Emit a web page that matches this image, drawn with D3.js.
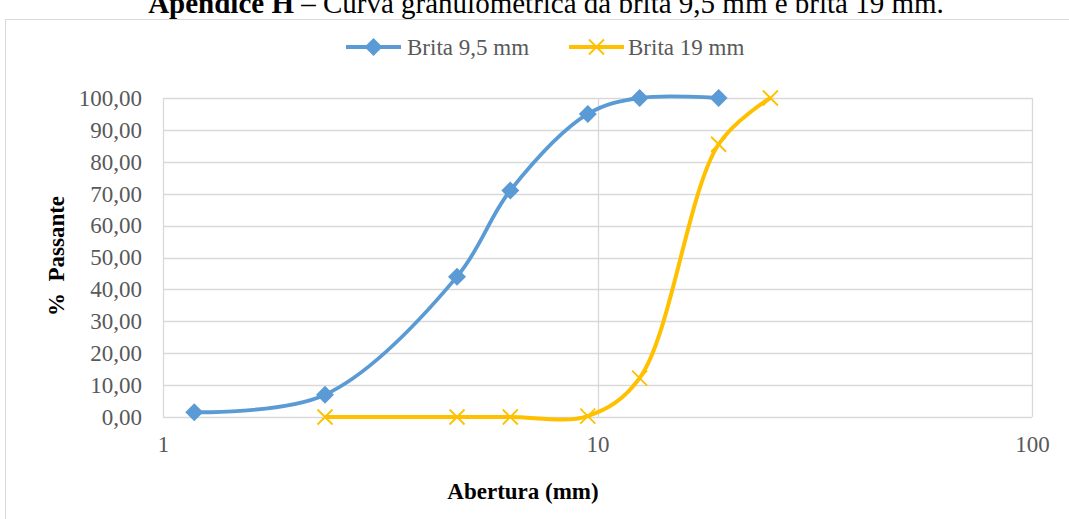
<!DOCTYPE html>
<html>
<head>
<meta charset="utf-8">
<script src="https://cdn.jsdelivr.net/npm/d3@7"></script>
<style>
  body { margin: 0; background: #fff; }
  text { font-family: "Liberation Serif", "Times New Roman", serif; }
</style>
</head>
<body>
<div id="chart"></div>
<script>
// peneiras (mm) e % passante
var sieves95 = [1.18, 2.36, 4.75, 6.3, 9.5, 12.5, 19];
var brita95 = [1.5, 7, 44, 71, 95, 100, 100];
var sieves19 = [2.36, 4.75, 6.3, 9.5, 12.5, 19, 25];
var brita19 = [0, 0, 0, 0.3, 12.2, 85.5, 100];
var yTicks = [0, 10, 20, 30, 40, 50, 60, 70, 80, 90, 100];
var xTicks = [1, 10, 100];
var seriesNames = ["Brita 9,5 mm", "Brita 19 mm"];

var width = 1069, height = 519;
var margin = {top: 98, right: 37, bottom: 102, left: 163};

var svg = d3.select('#chart').append('svg')
	.attr('width', width)
	.attr('height', height);

// moldura
svg.append('rect')
	.attr('x', 5.5).attr('y', 19.5)
	.attr('width', width).attr('height', height)
	.attr('fill', 'none')
	.attr('stroke', '#d9d9d9');

// titulo (cortado no topo)
var title = svg.append('text')
	.attr('x', 546).attr('y', 13)
	.attr('text-anchor', 'middle')
	.style('font-size', '29px');
title.append('tspan').style('font-weight', 'bold').text('Apêndice H');
title.append('tspan').text(' – Curva granulométrica da brita 9,5 mm e brita 19 mm.');

var x = d3.scaleLog().domain([1, 100]).range([margin.left, width - margin.right]);
var y = d3.scaleLinear().domain([0, 100]).range([height - margin.bottom, margin.top]);

var locale = d3.formatLocale({decimal: ",", thousands: ".", grouping: [3], currency: ["R$", ""]});
var fmt = locale.format(".2f");

// grade
svg.append('g').selectAll('line')
	.data(yTicks).enter().append('line')
	.attr('x1', x(1)).attr('x2', x(100))
	.attr('y1', function(d) { return Math.round(y(d)) + 0.5; })
	.attr('y2', function(d) { return Math.round(y(d)) + 0.5; })
	.attr('stroke', '#d9d9d9').attr('stroke-width', 1.3);

svg.append('g').selectAll('line')
	.data(xTicks).enter().append('line')
	.attr('x1', function(d) { return Math.round(x(d)) + 0.5; })
	.attr('x2', function(d) { return Math.round(x(d)) + 0.5; })
	.attr('y1', y(0)).attr('y2', y(100))
	.attr('stroke', '#d9d9d9').attr('stroke-width', 1.3);

// eixos
var yAxis = svg.append('g')
	.attr('transform', 'translate(' + (margin.left - 21) + ',0)')
	.call(d3.axisLeft(y).tickValues(yTicks).tickFormat(fmt).tickSize(0).tickPadding(0));
var xAxis = svg.append('g')
	.attr('transform', 'translate(0,' + (height - margin.bottom + 19) + ')')
	.call(d3.axisBottom(x).tickValues(xTicks).tickFormat(d3.format('d')).tickSize(0).tickPadding(0));
[yAxis, xAxis].forEach(function(a) {
	a.select('.domain').remove();
	a.selectAll('text')
		.style('font-family', '"Liberation Serif", serif')
		.style('font-size', '23px')
		.attr('fill', '#595959');
});
xAxis.selectAll('text').attr('dy', '0.71em');

// titulos dos eixos
svg.append('text')
	.attr('x', 523).attr('y', 499)
	.attr('text-anchor', 'middle')
	.style('font-size', '23px').style('font-weight', 'bold')
	.text('Abertura (mm)');

svg.append('text')
	.attr('transform', 'translate(64,256) rotate(-90)')
	.attr('text-anchor', 'middle')
	.style('font-size', '23px').style('font-weight', 'bold')
	.attr('xml:space', 'preserve')
	.text('%  Passante');

// curvas
var line = d3.line()
	.x(function(d) { return x(d[0]); })
	.y(function(d) { return y(d[1]); })
	.curve(d3.curveCatmullRom.alpha(0.5));

var data95 = d3.zip(sieves95, brita95);
var data19 = d3.zip(sieves19, brita19);

svg.append('path').datum(data95)
	.attr('d', line)
	.attr('fill', 'none')
	.attr('stroke', '#5b9bd5')
	.attr('stroke-width', 3.8);

svg.append('path').datum(data19)
	.attr('d', line)
	.attr('fill', 'none')
	.attr('stroke', '#ffc000')
	.attr('stroke-width', 4);

function diamond(g, cx, cy) {
	g.append('path')
		.attr('d', 'M' + cx + ',' + (cy - 9) + 'L' + (cx + 9) + ',' + cy + 'L' + cx + ',' + (cy + 9) + 'L' + (cx - 9) + ',' + cy + 'Z')
		.attr('fill', '#5b9bd5');
}
function cross(g, cx, cy) {
	g.append('path')
		.attr('d', 'M' + (cx - 7.5) + ',' + (cy - 7.5) + 'L' + (cx + 7.5) + ',' + (cy + 7.5) + 'M' + (cx + 7.5) + ',' + (cy - 7.5) + 'L' + (cx - 7.5) + ',' + (cy + 7.5))
		.attr('stroke', '#ffc000').attr('stroke-width', 1.8).attr('fill', 'none');
}

var marks = svg.append('g');
data95.forEach(function(d) { diamond(marks, x(d[0]), y(d[1])); });
data19.forEach(function(d) { cross(marks, x(d[0]), y(d[1])); });

// legenda
var legend = svg.append('g');
legend.append('line').attr('x1', 346).attr('x2', 401).attr('y1', 47).attr('y2', 47)
	.attr('stroke', '#5b9bd5').attr('stroke-width', 3.8);
diamond(legend, 373.5, 47);
legend.append('text').attr('x', 407).attr('y', 47).attr('dy', '0.35em')
	.style('font-size', '23px').attr('fill', '#595959').text(seriesNames[0]);
legend.append('line').attr('x1', 569).attr('x2', 624).attr('y1', 47).attr('y2', 47)
	.attr('stroke', '#ffc000').attr('stroke-width', 4);
cross(legend, 596.5, 47);
legend.append('text').attr('x', 628).attr('y', 47).attr('dy', '0.35em')
	.style('font-size', '23px').attr('fill', '#595959').text(seriesNames[1]);
</script>
</body>
</html>
